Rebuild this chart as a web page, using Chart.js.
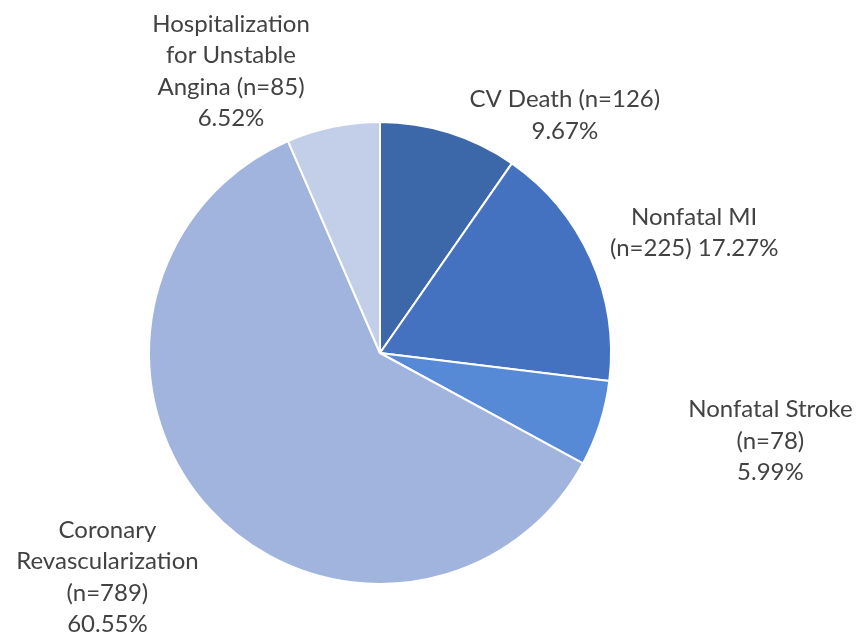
<!DOCTYPE html>
<html>
<head>
<meta charset="utf-8">
<script src="https://cdn.jsdelivr.net/npm/chart.js@4/dist/chart.umd.min.js"></script>
<style>
html,body{margin:0;padding:0;background:#fff;}
#wrap{width:860px;height:634px;position:relative;}
</style>
</head>
<body>
<div id="wrap"><canvas id="c" width="860" height="634"></canvas></div>
<script>
const categories = ["CV Death", "Nonfatal MI", "Nonfatal Stroke", "Coronary Revascularization", "Hospitalization for Unstable Angina"];
const counts = [126, 225, 78, 789, 85];
const percents = [9.67, 17.27, 5.99, 60.55, 6.52];
const labelLines = [
  ["CV Death (n=126)", "9.67%"],
  ["Nonfatal MI", "(n=225) 17.27%"],
  ["Nonfatal Stroke", "(n=78)", "5.99%"],
  ["Coronary", "Revascularization", "(n=789)", "60.55%"],
  ["Hospitalization", "for Unstable", "Angina (n=85)", "6.52%"]
];
const colors = ["#3c67a8", "#4472c0", "#5689d6", "#a0b4de", "#c3cfe8"];

// label block centre offsets from pie centre, in units of the pie radius
const labelOffsets = [[0.80, -1.03], [1.36, -0.52], [1.69, 0.38], [-1.18, 0.97], [-0.645, -1.22]];

const labelPlugin = {
  id: 'outLabels',
  afterDatasetsDraw(chart) {
    const ctx = chart.ctx;
    const meta = chart.getDatasetMeta(0);
    const arc0 = meta.data[0];
    const cx = arc0.x, cy = arc0.y, r = arc0.outerRadius;
    ctx.save();
    ctx.font = '24px Lato, "Open Sans", sans-serif';
    ctx.fillStyle = '#424242';
    ctx.textAlign = 'center';
    ctx.textBaseline = 'middle';
    const lh = 31.5;
    labelLines.forEach((lines, i) => {
      const x = cx + labelOffsets[i][0] * r;
      const y = cy + labelOffsets[i][1] * r;
      const top = y - (lines.length - 1) * lh / 2;
      lines.forEach((t, j) => ctx.fillText(t, x, top + j * lh));
    });
    ctx.restore();
  }
};

new Chart(document.getElementById('c'), {
  type: 'pie',
  data: {
    labels: categories,
    datasets: [{
      data: percents,
      backgroundColor: colors,
      borderColor: '#ffffff',
      borderWidth: 2
    }]
  },
  options: {
    responsive: false,
    animation: false,
    layout: { padding: { left: 148, right: 248, top: 121, bottom: 49 } },
    plugins: { legend: { display: false }, tooltip: { enabled: false } }
  },
  plugins: [labelPlugin]
});
</script>
</body>
</html>
